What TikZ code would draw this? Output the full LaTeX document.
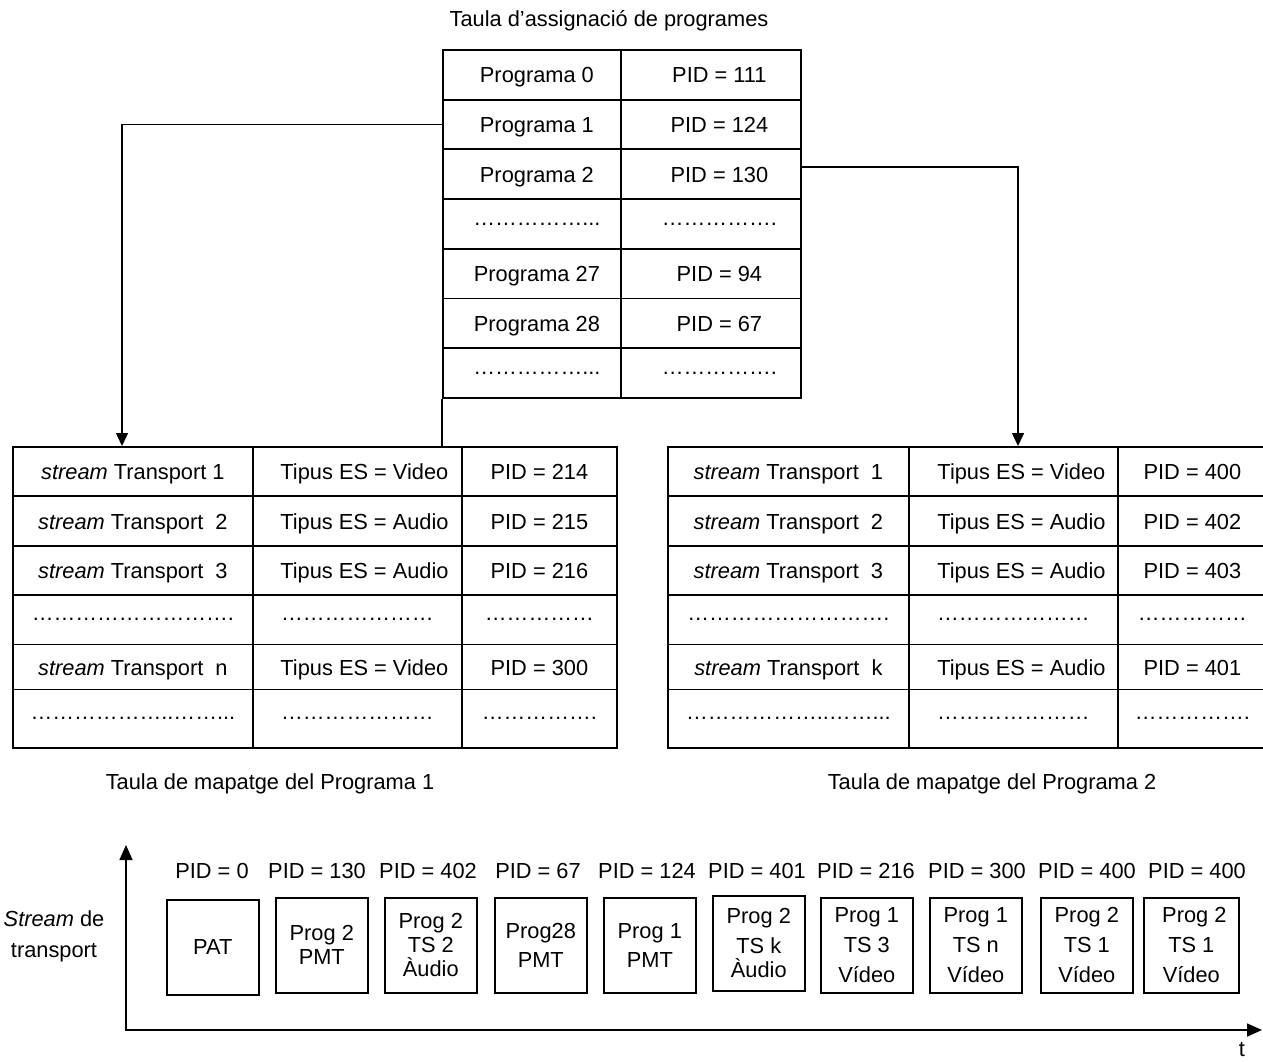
\documentclass[tikz,border=0pt]{standalone}
\usepackage{fontspec}
\setmainfont{Liberation Sans}
\usetikzlibrary{arrows.meta}
% repeat #2 #1 times
\newcommand\reps[2]{\ifnum#1>0 #2\reps{\numexpr#1-1\relax}{#2}\fi}
\newcommand\elld[1]{\reps{#1}{…}}
% push centred cell text to the right by half of #1
\newcommand\padl[1]{\hspace*{#1pt}}
% table cells: name, x, y (top-left), width, height, text
\newcommand\cellat[6]{\node[cell,text height=16pt,text depth=0pt,minimum width=#4,minimum height=#5] (#1) at (#2,#3) {#6};}
\newcommand\dcellat[6]{\node[cell,minimum width=#4,minimum height=#5] (#1) at (#2,#3) {#6};}
\begin{document}
\begin{tikzpicture}[x=1pt,y=-1pt,
  every node/.style={font=\fontsize{21.8}{26}\selectfont, inner sep=0pt},
  cell/.style={draw, line width=1.8pt, anchor=north west, align=center},
  pkt/.style={draw, line width=1.6pt, anchor=north west, align=center,
              minimum width=92, minimum height=95},
  link/.style={line width=1.5pt, -{Triangle[length=13pt,width=12pt]}},
  wire/.style={line width=1.8pt},
  axis/.style={line width=1.6pt,
               {Triangle[length=15pt,width=13pt]}-{Triangle[length=15pt,width=13pt]}},
  pid/.style={anchor=center}
]
\useasboundingbox (0,0) rectangle (1263,1061);

% ---- programme association table
\node (pattitle) at (609,21) {Taula d’assignació de programes};
\cellat{pa1}{442}{49}{178}{49.7}{\padl{10}Programa 0}
\cellat{pb1}{620}{49}{180}{49.7}{\padl{17}PID = 111}
\cellat{pa2}{442}{98.7}{178}{49.7}{\padl{10}Programa 1}
\cellat{pb2}{620}{98.7}{180}{49.7}{\padl{17}PID = 124}
\cellat{pa3}{442}{148.4}{178}{49.7}{\padl{10}Programa 2}
\cellat{pb3}{620}{148.4}{180}{49.7}{\padl{17}PID = 130}
\dcellat{pa4}{442}{198.1}{178}{49.7}{\padl{10}\elld{5}...}
\dcellat{pb4}{620}{198.1}{180}{49.7}{\padl{17}\elld{5}.}
\cellat{pa5}{442}{247.8}{178}{49.7}{\padl{10}Programa 27}
\cellat{pb5}{620}{247.8}{180}{49.7}{\padl{17}PID = 94}
\cellat{pa6}{442}{297.5}{178}{49.7}{\padl{10}Programa 28}
\cellat{pb6}{620}{297.5}{180}{49.7}{\padl{17}PID = 67}
\dcellat{pa7}{442}{347.2}{178}{49.7}{\padl{10}\elld{5}...}
\dcellat{pb7}{620}{347.2}{180}{49.7}{\padl{17}\elld{5}.}

% ---- programme map table 1
\cellat{la1}{12}{446}{240}{49.4}{\textit{stream} Transport 1}
\cellat{lb1}{252}{446}{209}{49.4}{\padl{14}Tipus ES = Video}
\cellat{lc1}{461}{446}{155}{49.4}{PID = 214}
\cellat{la2}{12}{495.4}{240}{49.4}{\textit{stream} Transport\ \ 2}
\cellat{lb2}{252}{495.4}{209}{49.4}{\padl{14}Tipus ES = Audio}
\cellat{lc2}{461}{495.4}{155}{49.4}{PID = 215}
\cellat{la3}{12}{544.8}{240}{49.4}{\textit{stream} Transport\ \ 3}
\cellat{lb3}{252}{544.8}{209}{49.4}{\padl{14}Tipus ES = Audio}
\cellat{lc3}{461}{544.8}{155}{49.4}{PID = 216}
\dcellat{la4}{12}{594.2}{240}{49.4}{\elld{9}.}
\dcellat{lb4}{252}{594.2}{209}{49.4}{\elld{7}}
\dcellat{lc4}{461}{594.2}{155}{49.4}{\elld{5}}
\cellat{la5}{12}{643.6}{240}{45}{\textit{stream} Transport\ \ n}
\cellat{lb5}{252}{643.6}{209}{45}{\padl{14}Tipus ES = Video}
\cellat{lc5}{461}{643.6}{155}{45}{PID = 300}
\dcellat{la6}{12}{688.6}{240}{58.4}{\elld{6}..\elld{2}...}
\dcellat{lb6}{252}{688.6}{209}{58.4}{\elld{7}}
\dcellat{lc6}{461}{688.6}{155}{58.4}{\elld{5}.}
\node (pmt1title) at (270,784) {Taula de mapatge del Programa 1};

% ---- programme map table 2
\cellat{ra1}{667}{446}{241}{49.4}{\textit{stream} Transport\ \ 1}
\cellat{rb1}{908}{446}{209}{49.4}{\padl{16}Tipus ES = Video}
\cellat{rc1}{1117}{446}{149}{49.4}{PID = 400}
\cellat{ra2}{667}{495.4}{241}{49.4}{\textit{stream} Transport\ \ 2}
\cellat{rb2}{908}{495.4}{209}{49.4}{\padl{16}Tipus ES = Audio}
\cellat{rc2}{1117}{495.4}{149}{49.4}{PID = 402}
\cellat{ra3}{667}{544.8}{241}{49.4}{\textit{stream} Transport\ \ 3}
\cellat{rb3}{908}{544.8}{209}{49.4}{\padl{16}Tipus ES = Audio}
\cellat{rc3}{1117}{544.8}{149}{49.4}{PID = 403}
\dcellat{ra4}{667}{594.2}{241}{49.4}{\elld{9}.}
\dcellat{rb4}{908}{594.2}{209}{49.4}{\elld{7}}
\dcellat{rc4}{1117}{594.2}{149}{49.4}{\elld{5}}
\cellat{ra5}{667}{643.6}{241}{45}{\textit{stream} Transport\ \ k}
\cellat{rb5}{908}{643.6}{209}{45}{\padl{16}Tipus ES = Audio}
\cellat{rc5}{1117}{643.6}{149}{45}{PID = 401}
\dcellat{ra6}{667}{688.6}{241}{58.4}{\elld{6}..\elld{2}...}
\dcellat{rb6}{908}{688.6}{209}{58.4}{\elld{7}}
\dcellat{rc6}{1117}{688.6}{149}{58.4}{\elld{5}.}
\node (pmt2title) at (992,784) {Taula de mapatge del Programa 2};

% ---- links from the PAT to the map tables
\coordinate (in1) at (122,446);
\coordinate (in2) at (1018,446);
\draw[link] (pa2.west) -| (in1);
\draw[link] ([yshift=7pt]pb3.east) -| (in2);
\draw[wire] (pa7.south west) -- (pa7.south west |- lb1.north);

% ---- transport stream along time
\coordinate (orig) at (126,1030);
\coordinate (ytop) at (126,845);
\coordinate (xend) at (1262,1030);
\draw[axis] (ytop) -- (orig) -- (xend);
\node (tlab) at (1242,1050) {t};
\node[align=center] (tslab) at (54,936) {\textit{Stream} de\\[5pt]transport};

\node[pkt] (k1) at (166,899) {PAT};
\node[pkt] (k2) at (275,897) {Prog 2\\[-2pt]PMT};
\node[pkt] (k3) at (384,897) {Prog 2\\[-2pt]TS 2\\[-2pt]Àudio};
\node[pkt] (k4) at (494,897) {Prog28\\[3pt]PMT};
\node[pkt] (k5) at (603,897) {Prog 1\\[3pt]PMT};
\node[pkt] (k6) at (712,895) {Prog 2\\[4pt]TS k\\[-2pt]Àudio};
\node[pkt] (k7) at (820,897) {Prog 1\\[4pt]TS 3\\[4pt]Vídeo};
\node[pkt] (k8) at (929,897) {Prog 1\\[4pt]TS n\\[4pt]Vídeo};
\node[pkt] (k9) at (1040,897) {Prog 2\\[4pt]TS 1\\[4pt]Vídeo};
\node[pkt,minimum width=95] (k10) at (1143,897) {\ Prog 2\\[4pt]TS 1\\[4pt]Vídeo};

\node[pid] (p1) at (212,871) {PID = 0};
\node[pid] (p2) at (317,871) {PID = 130};
\node[pid] (p3) at (428,871) {PID = 402};
\node[pid] (p4) at (538,871) {PID = 67};
\node[pid] (p5) at (647,871) {PID = 124};
\node[pid] (p6) at (757,871) {PID = 401};
\node[pid] (p7) at (866,871) {PID = 216};
\node[pid] (p8) at (977,871) {PID = 300};
\node[pid] (p9) at (1087,871) {PID = 400};
\node[pid] (p10) at (1197,871) {PID = 400};
\end{tikzpicture}
\end{document}
